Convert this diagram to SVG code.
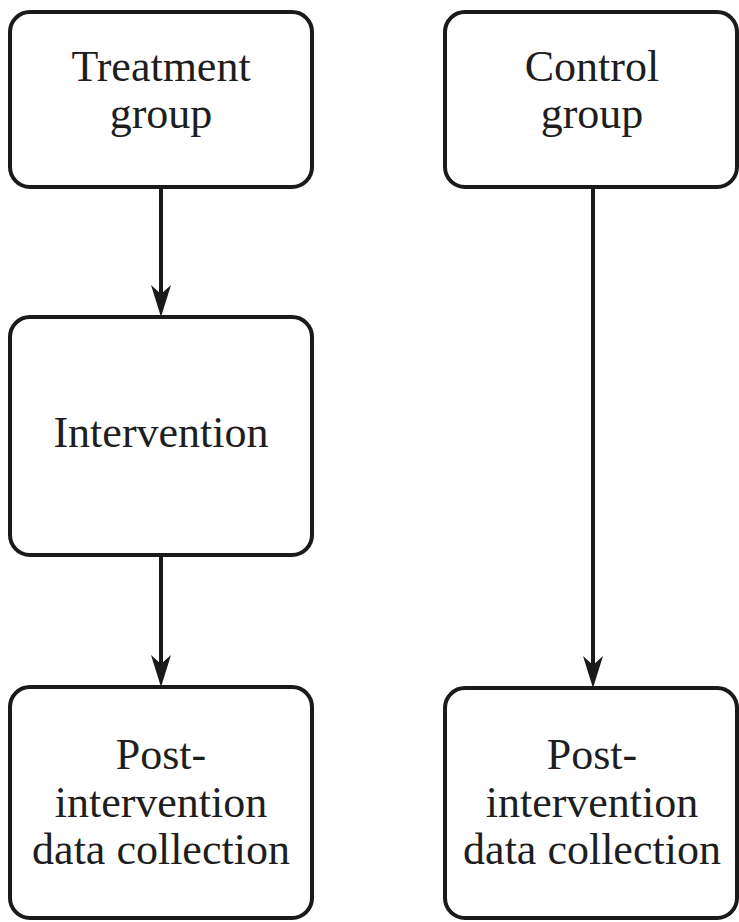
<svg xmlns="http://www.w3.org/2000/svg" width="739" height="922" viewBox="0 0 739 922">
  <defs>
    <style>
      .box { fill: #ffffff; stroke: #1a1a1a; stroke-width: 4; }
      .lbl { font-family: "Liberation Serif", "Times New Roman", serif; font-size: 44px; fill: #1e1e1e; text-anchor: middle; }
      .wire { stroke: #1a1a1a; stroke-width: 4; fill: none; }
      .head { fill: #1a1a1a; stroke: none; }
    </style>
  </defs>
  <rect width="739" height="922" fill="#ffffff"/>

  <!-- connectors -->
  <g id="connectors">
    <line class="wire" x1="161" y1="187" x2="161" y2="300"/>
    <path class="head" d="M161,317 L151,285 L161,294 L171,285 Z"/>
    <line class="wire" x1="161" y1="555" x2="161" y2="670"/>
    <path class="head" d="M161,687 L151,655 L161,664 L171,655 Z"/>
    <line class="wire" x1="593" y1="187" x2="593" y2="671"/>
    <path class="head" d="M593,688 L583,656 L593,665 L603,656 Z"/>
  </g>

  <g id="treatment">
    <rect class="box" x="10" y="12" width="302" height="175" rx="20"/>
    <text class="lbl" x="161" y="81">Treatment</text>
    <text class="lbl" x="161" y="128">group</text>
  </g>

  <g id="control">
    <rect class="box" x="445" y="12" width="292" height="175" rx="20"/>
    <text class="lbl" x="592" y="81">Control</text>
    <text class="lbl" x="592" y="128">group</text>
  </g>

  <g id="intervention">
    <rect class="box" x="10" y="317" width="302" height="238" rx="20"/>
    <text class="lbl" x="161" y="447">Intervention</text>
  </g>

  <g id="post-treatment">
    <rect class="box" x="10" y="687" width="302" height="231" rx="20"/>
    <text class="lbl" x="161" y="769">Post-</text>
    <text class="lbl" x="161" y="817">intervention</text>
    <text class="lbl" x="161" y="864">data collection</text>
  </g>

  <g id="post-control">
    <rect class="box" x="445" y="688" width="292" height="230" rx="20"/>
    <text class="lbl" x="592" y="769">Post-</text>
    <text class="lbl" x="592" y="817">intervention</text>
    <text class="lbl" x="592" y="864">data collection</text>
  </g>
</svg>
